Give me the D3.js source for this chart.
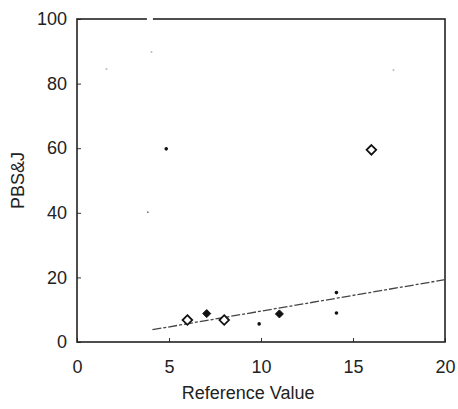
<!DOCTYPE html>
<html>
<head>
<meta charset="utf-8">
<script src="https://cdn.jsdelivr.net/npm/d3@7"></script>
<style>
  body { margin: 0; background: #fff; }
  text { font-family: "Liberation Sans", Arial, sans-serif; fill: #222; }
</style>
</head>
<body>
<div id="chart"></div>
<script>
// ticks
const xTicks = [0, 5, 10, 15, 20];
const yTicks = [0, 20, 40, 60, 80, 100];

// open diamonds
const openX = [6.0, 8.0, 16.0];
const openY = [6.8, 6.8, 59.5];
// filled diamonds
const filledX = [7.05, 11.0];
const filledY = [8.8, 8.7];
// small dark dots
const dotX = [4.85, 9.9, 14.1, 14.1, 3.85];
const dotY = [59.8, 5.6, 15.3, 9.0, 40.2];
// faint grey specks
const faintX = [1.6, 4.05, 17.2];
const faintY = [84.5, 89.8, 84.2];
// fitted line ends
const fitX = [4.1, 20];
const fitY = [3.8, 19.3];

//=====================plot size=========================
var margin = {top: 19, bottom: 67, right: 13, left: 77};
var width = 458 - margin.left - margin.right;
var height = 409 - margin.top - margin.bottom;

var svg = d3.select('#chart')
  .append('svg')
  .attr('width', 458)
  .attr('height', 409)
  .append('g')
  .attr('transform', 'translate(' + margin.left + ',' + margin.top + ')');

var x = d3.scaleLinear().domain([0, 20]).range([0, width]);
var y = d3.scaleLinear().domain([0, 100]).range([height, 0]);

// axes with inward ticks
var xAxis = svg.append('g')
  .attr('transform', 'translate(0,' + height + ')')
  .call(d3.axisBottom(x).tickValues(xTicks).tickSizeInner(-4).tickSizeOuter(0).tickPadding(18));
var yAxis = svg.append('g')
  .call(d3.axisLeft(y).tickValues(yTicks).tickSizeInner(-4).tickSizeOuter(0).tickPadding(10));

[xAxis, yAxis].forEach(function(a) {
  a.select('.domain').remove();
  a.selectAll('line').attr('stroke', '#333').attr('stroke-width', 1);
  a.selectAll('text').style('font-size', '18px').attr('fill', '#222');
});

// frame
svg.append('rect')
  .attr('x', 0).attr('y', 0)
  .attr('width', width).attr('height', height)
  .attr('fill', 'none')
  .attr('stroke', '#222')
  .attr('stroke-width', 1.6);

// gap in the top border (scan)
svg.append('rect')
  .attr('x', x(3.8)).attr('y', -2)
  .attr('width', 6).attr('height', 4)
  .attr('fill', '#fff');

// fitted line
svg.append('path')
  .datum(d3.range(fitX.length))
  .attr('d', d3.line().x(function(i) { return x(fitX[i]); }).y(function(i) { return y(fitY[i]); }))
  .attr('fill', 'none')
  .attr('stroke', '#444')
  .attr('stroke-width', 1.3)
  .attr('stroke-dasharray', '9,2,3,2');

// rotated square = squat diamond
function diamondAt(px, py, half) {
  return 'M' + px + ',' + (py - half) + 'L' + (px + half) + ',' + py +
         'L' + px + ',' + (py + half) + 'L' + (px - half) + ',' + py + 'Z';
}

svg.selectAll('.faint')
  .data(d3.range(faintX.length))
  .enter()
  .append('circle')
  .attr('cx', function(i) { return x(faintX[i]); })
  .attr('cy', function(i) { return y(faintY[i]); })
  .attr('r', 1)
  .attr('fill', '#b8b8b8');

svg.selectAll('.dot')
  .data(d3.range(dotX.length))
  .enter()
  .append('circle')
  .attr('cx', function(i) { return x(dotX[i]); })
  .attr('cy', function(i) { return y(dotY[i]); })
  .attr('r', function(i) { return i == 4 ? 0.9 : 1.8; })
  .attr('fill', function(i) { return i == 4 ? '#777' : '#111'; });

svg.selectAll('.open')
  .data(d3.range(openX.length))
  .enter()
  .append('path')
  .attr('d', function(i) { return diamondAt(x(openX[i]), y(openY[i]), 4.8); })
  .attr('fill', '#fff')
  .attr('stroke', '#111')
  .attr('stroke-width', 1.8);

svg.selectAll('.filled')
  .data(d3.range(filledX.length))
  .enter()
  .append('path')
  .attr('d', function(i) { return diamondAt(x(filledX[i]), y(filledY[i]), 4); })
  .attr('fill', '#111')
  .attr('stroke', '#111')
  .attr('stroke-width', 1);

// axis titles
svg.append('text')
  .attr('x', x(9.3))
  .attr('y', height + 57)
  .attr('text-anchor', 'middle')
  .style('font-size', '18px')
  .text('Reference Value');

svg.append('text')
  .attr('transform', 'translate(' + (-53) + ',' + (height / 2) + ') rotate(-90)')
  .attr('text-anchor', 'middle')
  .style('font-size', '18px')
  .text('PBS&J');
</script>
</body>
</html>
